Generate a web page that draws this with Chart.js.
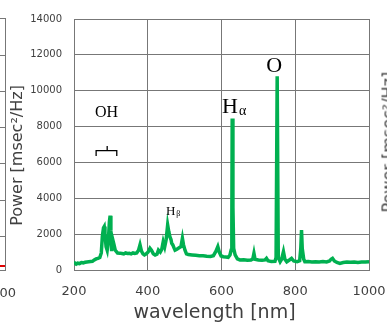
<!DOCTYPE html>
<html>
<head>
<meta charset="utf-8">
<script src="https://cdn.jsdelivr.net/npm/chart.js@4/dist/chart.umd.min.js"></script>
<style>
  html, body { margin: 0; padding: 0; background: #fff; overflow: hidden; }
  #wrap { position: relative; width: 387px; height: 324px; overflow: hidden; }
  canvas { position: absolute; left: 0; top: 0; }
  .edge { position: absolute; background: #777; }
  .cut { position: absolute; font-family: "DejaVu Sans", sans-serif; color: #404040; white-space: nowrap; }
</style>
</head>
<body>
<div id="wrap">
  <canvas id="spectrum" width="387" height="324"></canvas>
  <!-- bits of the neighbouring panels that the crop left in -->
  <div class="edge" style="left:5px;top:18px;width:1px;height:253px;"></div>
  <div class="edge" style="left:0;top:18px;width:5px;height:1px;"></div>
  <div class="edge" style="left:0;top:55px;width:5px;height:1px;"></div>
  <div class="edge" style="left:0;top:91px;width:5px;height:1px;"></div>
  <div class="edge" style="left:0;top:127px;width:5px;height:1px;"></div>
  <div class="edge" style="left:0;top:163px;width:5px;height:1px;"></div>
  <div class="edge" style="left:0;top:200px;width:5px;height:1px;"></div>
  <div class="edge" style="left:0;top:236px;width:5px;height:1px;"></div>
  <div class="edge" style="left:0;top:270px;width:6px;height:1px;"></div>
  <div class="edge" style="left:0;top:265px;width:5px;height:2px;background:#e00000;"></div>
  <div class="cut" style="left:-17px;top:285px;font-size:13px;">1000</div>
  <div class="cut" style="left:388px;top:203px;height:19px;line-height:19px;font-size:16px;transform:rotate(-90deg);transform-origin:0 50%;">Power [msec²/Hz]</div>
</div>
<script>
var wavelength = [
  200, 203, 206, 210, 215, 220, 225, 230, 235, 240, 245, 250, 255, 260, 265, 270,
  274, 277, 280, 282, 284, 287, 290, 293, 296, 298, 300, 302, 305, 308, 312, 318,
  325, 330, 335, 340, 345, 350, 355, 360, 365, 370, 375, 379, 383, 387,
  391, 396, 401, 406, 410, 415, 420, 425, 429, 434, 438, 442, 446, 450, 454, 457,
  460, 463, 465, 468, 471, 474, 478, 482, 486, 490, 494, 497, 501, 505, 510,
  520, 530, 540, 550, 560, 570, 578, 585, 590, 594, 599, 605, 612, 618, 623, 626,
  628, 629, 631, 633, 637, 643, 650, 660, 670, 680, 685, 688, 691, 700, 710, 718,
  722, 726, 735, 745, 748, 751, 754, 759, 763, 768, 772, 777, 784, 790, 796,
  805, 812, 815, 817, 819, 823, 826, 835, 845, 855, 865, 875, 885, 893, 897, 901,
  906, 913, 921, 930, 940, 950, 960, 970, 980, 990, 1000
];
var power = [
  300, 380, 330, 380, 360, 420, 400, 430, 450, 460, 470, 480, 560, 620, 650, 700,
  950, 1900, 2350, 2420, 2000, 1300, 1100, 1600, 2700, 3030, 2200, 1050, 1700, 1450, 1100, 950,
  940, 920, 900, 950, 920, 930, 900, 950, 920, 950, 1100, 1400, 1050, 900,
  840, 900, 1000, 1210, 1100, 900, 840, 880, 1110, 1000, 1150, 1580, 1300, 1700, 2510, 2150,
  1860, 1700, 1490, 1400, 1250, 1110, 1150, 1200, 1250, 1300, 1770, 1400, 1100, 900, 860,
  840, 820, 800, 790, 770, 760, 800, 1050, 1300, 1000, 780, 740, 720, 700, 840, 1100,
  2500, 8450, 3500, 1200, 840, 620, 560, 570, 540, 560, 620, 930, 600, 560, 540, 560,
  650, 520, 470, 480, 700, 10800, 700, 460, 600, 1020, 600, 460, 560, 650, 500,
  460, 520, 1200, 2230, 1200, 600, 460, 470, 450, 460, 450, 470, 450, 500, 600, 650,
  500, 420, 370, 420, 440, 430, 450, 420, 440, 450, 460
];
var xTicks = [200, 400, 600, 800, 1000];
var yTicks = [0, 2000, 4000, 6000, 8000, 10000, 12000, 14000];

var points = wavelength.map(function (w, i) { return { x: w, y: power[i] }; });

var textColor = '#404040';
var gridColor = '#777';

// peak labels, placed in data units (y = baseline)
var peakLabels = [
  { main: 'O', sub: '', x: 743, y: 11050, size: 22 },
  { main: 'H', sub: 'α', x: 623, y: 8760, size: 22 },
  { main: 'OH', sub: '', x: 288, y: 8534, size: 16 },
  { main: 'H', sub: 'β', x: 462, y: 3070, size: 13 }
];

var annotate = {
  id: 'annotate',
  afterDatasetsDraw: function (chart) {
    var ctx = chart.ctx;
    var xs = chart.scales.x, ys = chart.scales.y;
    var area = chart.chartArea;
    ctx.save();
    ctx.fillStyle = '#000';
    ctx.textBaseline = 'alphabetic';
    peakLabels.forEach(function (p) {
      var px = xs.getPixelForValue(p.x);
      var py = ys.getPixelForValue(p.y);
      ctx.font = p.size + 'px "Liberation Serif", serif';
      var w = ctx.measureText(p.main).width;
      ctx.textAlign = 'left';
      ctx.fillText(p.main, px - w / 2, py);
      if (p.sub) {
        ctx.font = Math.round(p.size * 0.62) + 'px "Liberation Serif", serif';
        ctx.fillText(p.sub, px + w / 2 + 1, py + p.size * 0.1);
      }
    });
    // bracket under OH
    var l = xs.getPixelForValue(260), r = xs.getPixelForValue(316), m = xs.getPixelForValue(290);
    var yb = ys.getPixelForValue(6655), ye = ys.getPixelForValue(6360), yt = ys.getPixelForValue(6920);
    ctx.strokeStyle = '#000';
    ctx.lineWidth = 1.3;
    ctx.beginPath();
    ctx.moveTo(l, ye); ctx.lineTo(l, yb); ctx.lineTo(r, yb); ctx.lineTo(r, ye);
    ctx.moveTo(m, yb); ctx.lineTo(m, yt);
    ctx.stroke();

    // axis titles
    ctx.fillStyle = textColor;
    ctx.textAlign = 'center';
    ctx.textBaseline = 'middle';
    ctx.font = '19px "DejaVu Sans", sans-serif';
    ctx.fillText('wavelength [nm]', (area.left + area.right) / 2 - 7, 313);
    ctx.translate(18, (area.top + area.bottom) / 2 + 11);
    ctx.rotate(-Math.PI / 2);
    ctx.font = '16px "DejaVu Sans", sans-serif';
    ctx.fillText('Power [msec²/Hz]', 0, 0);
    ctx.restore();
  }
};

new Chart(document.getElementById('spectrum'), {
  type: 'line',
  data: {
    datasets: [{
      data: points,
      borderColor: '#00b050',
      borderWidth: 3.5,
      pointRadius: 0,
      tension: 0,
      fill: false
    }]
  },
  options: {
    responsive: false,
    animation: false,
    devicePixelRatio: 1,
    layout: { padding: { top: 19, right: 18, left: 0, bottom: 0 } },
    plugins: { legend: { display: false }, tooltip: { enabled: false } },
    scales: {
      x: {
        type: 'linear',
        min: 200,
        max: 1000,
        afterBuildTicks: function (s) { s.ticks = xTicks.map(function (v) { return { value: v }; }); },
        afterFit: function (s) { s.height = 54; s.paddingLeft = 0; s.paddingRight = 0; },
        grid: { color: gridColor, drawTicks: false, lineWidth: 1 },
        border: { color: gridColor },
        ticks: {
          padding: 14,
          color: textColor,
          font: { family: 'DejaVu Sans', size: 13 },
          maxRotation: 0,
          callback: function (v) { return String(v); }
        }
      },
      y: {
        min: 0,
        max: 14000,
        afterBuildTicks: function (s) { s.ticks = yTicks.map(function (v) { return { value: v }; }); },
        afterFit: function (s) { s.width = 74; s.paddingTop = 0; s.paddingBottom = 0; },
        grid: { color: gridColor, drawTicks: false, lineWidth: 1 },
        border: { color: gridColor },
        ticks: {
          padding: 12,
          color: textColor,
          font: { family: 'DejaVu Sans', size: 10 },
          callback: function (v) { return String(v); }
        }
      }
    }
  },
  plugins: [annotate]
});
</script>
</body>
</html>
